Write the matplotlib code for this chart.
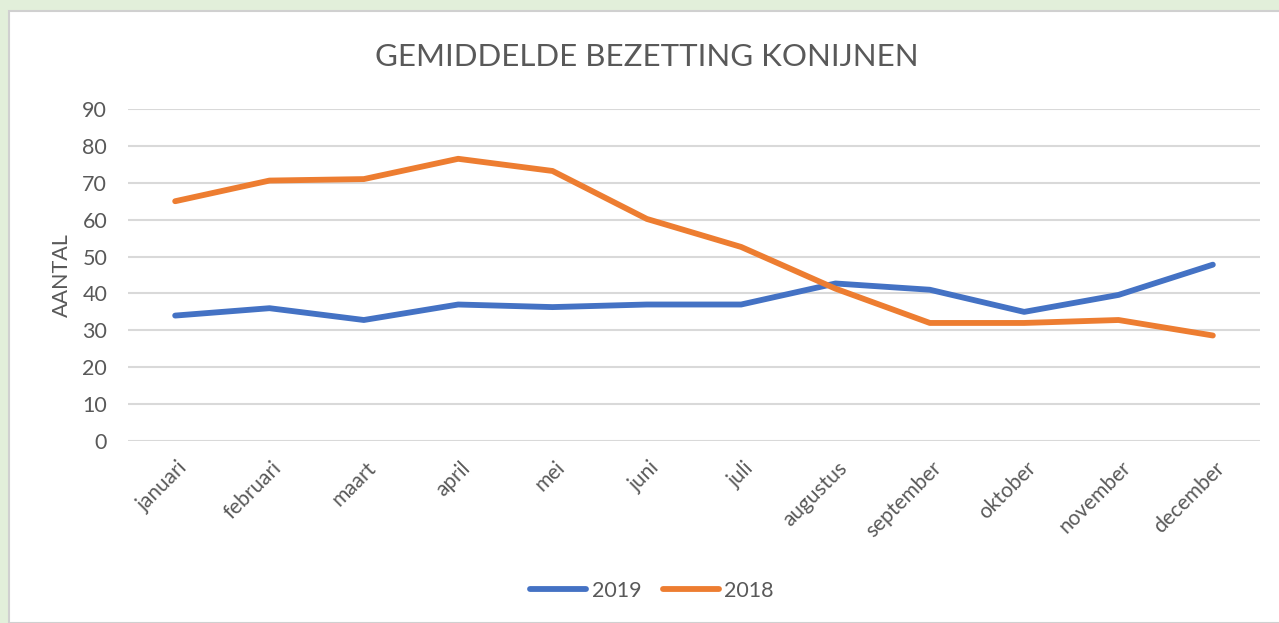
import matplotlib.pyplot as plt
from matplotlib.patches import Rectangle
import matplotlib.transforms as mtransforms

# Gegevens
maanden = ["januari", "februari", "maart", "april", "mei", "juni", "juli",
           "augustus", "september", "oktober", "november", "december"]
bezetting_2019 = [34, 36, 32.8, 37, 36.3, 37, 37, 42.7, 41, 35, 39.6, 47.8]
bezetting_2018 = [65, 70.6, 71, 76.5, 73.2, 60.2, 52.6, 41.3, 32, 32, 32.8, 28.6]

kleur_2019 = "#4472C4"
kleur_2018 = "#ED7D31"
tekst = "#595959"

plt.rcParams['font.family'] = ['Lato', 'DejaVu Sans']

fig = plt.figure(figsize=(12.79, 6.23), dpi=100)
fig.patch.set_facecolor("#E2EFDA")
# witte grafiekvlak met grijze rand
fig.patches.append(Rectangle((9 / 1279, 0), 1, 1 - 11 / 623, transform=fig.transFigure,
                             facecolor="white", edgecolor="#D0D0D0", linewidth=1.5, zorder=-10))

ax = fig.add_axes([128 / 1279, 1 - 441 / 623, (1260 - 128) / 1279, (441 - 109) / 623])
ax.set_facecolor("none")

x = range(len(maanden))
ax.plot(x, bezetting_2019, color=kleur_2019, lw=4.2, solid_capstyle="round", label="2019", zorder=3)
ax.plot(x, bezetting_2018, color=kleur_2018, lw=4.2, solid_capstyle="round", label="2018", zorder=3)

ax.set_xlim(-0.5, len(maanden) - 0.5)
ax.set_ylim(0, 90)
ax.set_yticks(range(0, 91, 10))
ax.grid(axis="y", color="#D9D9D9", lw=1.5)
ax.set_axisbelow(True)
for s in ax.spines.values():
    s.set_visible(False)

ax.tick_params(axis="y", length=0, pad=15, labelsize=15.5, labelcolor=tekst)
ax.tick_params(axis="x", length=0, pad=12, labelsize=15, labelcolor=tekst)
ax.set_xticks(list(x))
ax.set_xticklabels(maanden, rotation=45, ha="right", rotation_mode="anchor")
offset = mtransforms.ScaledTranslation(2 / 100, 0, fig.dpi_scale_trans)
for lbl in ax.get_xticklabels():
    lbl.set_transform(lbl.get_transform() + offset)

fig.text(62 / 1279, 1 - 275 / 623, "AANTAL", rotation=90, ha="center", va="center",
         fontsize=15.5, color=tekst)
fig.text(647 / 1279, 1 - 57 / 623, "GEMIDDELDE BEZETTING KONIJNEN", ha="center", va="center",
         fontsize=22.5, color=tekst)

fig.legend(loc="center", bbox_to_anchor=(652 / 1279, 1 - 591 / 623), ncol=2, frameon=False,
           fontsize=15.5, labelcolor=tekst, handlelength=2.6, handletextpad=0.25, columnspacing=1.0)

fig.savefig("out.png", dpi=100, facecolor=fig.get_facecolor())
